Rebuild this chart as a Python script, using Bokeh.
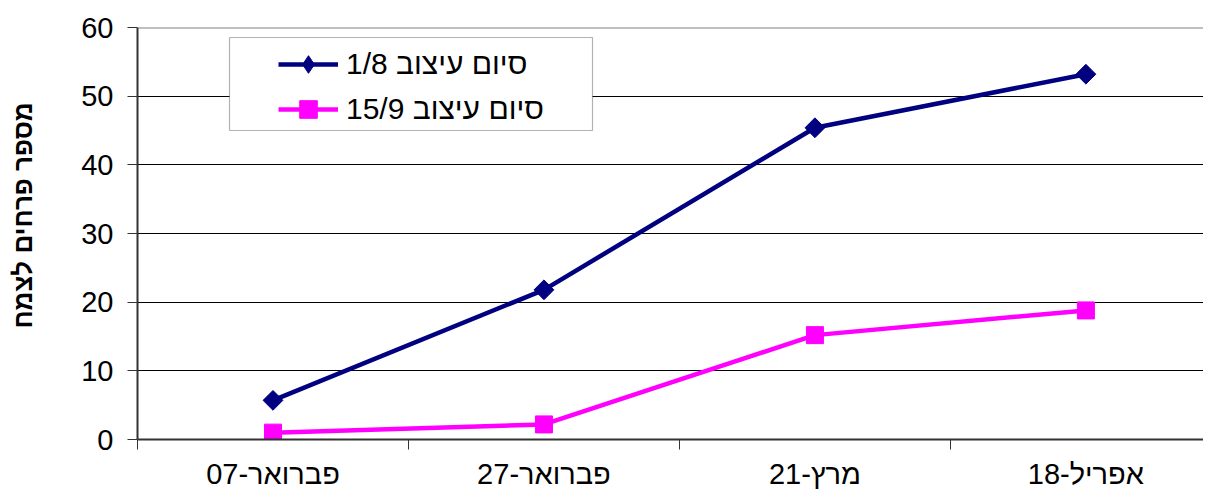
import math
from bokeh.plotting import figure
from bokeh.models import Range1d, FixedTicker, Legend, LegendItem, BoxAnnotation, Span
from bokeh.embed import file_html
from bokeh.resources import INLINE

# ---- data ----
categories = ["פברואר-07", "פברואר-27", "מרץ-21", "אפריל-18"]
series_names = ["סיום עיצוב 1/8", "סיום עיצוב 15/9"]
values_1_8 = [5.7, 21.8, 45.4, 53.2]
values_15_9 = [1.0, 2.2, 15.2, 18.8]
y_ticks = [0, 10, 20, 30, 40, 50, 60]
y_label = "מספר פרחים לצמח"

# ---- view settings ----
FONT = "Liberation Sans"
Y_MAX = 60
X_END = 3.934          # visible part of the category axis (chart is cut at the right)
NAVY = "#000080"
MAGENTA = "#FF00FF"

x_pos = [i + 0.5 for i in range(len(categories))]

p = figure(width=1203, height=492, output_backend="svg", toolbar_location=None,
           x_range=Range1d(0, X_END), y_range=Range1d(0, Y_MAX),
           min_border_left=137, min_border_right=0, min_border_top=27, min_border_bottom=53)
p.outline_line_color = None
p.background_fill_color = "white"
p.border_fill_color = "white"

# grid
p.xgrid.visible = False
p.ygrid.ticker = FixedTicker(ticks=y_ticks)
p.ygrid.grid_line_color = "black"
p.ygrid.grid_line_width = 1

# y axis
p.yaxis.ticker = FixedTicker(ticks=y_ticks)
p.yaxis.axis_line_color = "#333333"
p.yaxis.axis_line_width = 2
p.yaxis.major_tick_out = 10
p.yaxis.major_tick_in = 0
p.yaxis.major_tick_line_color = "#333333"
p.yaxis.minor_tick_line_color = None
p.yaxis.major_label_text_font = FONT
p.yaxis.major_label_text_font_size = "29px"
p.yaxis.major_label_text_color = "black"
p.yaxis.major_label_standoff = 14
p.yaxis.axis_label = "\u00a0" * 5 + y_label
p.yaxis.axis_label_text_font = FONT
p.yaxis.axis_label_text_font_size = "26px"
p.yaxis.axis_label_text_font_style = "bold"
p.yaxis.axis_label_text_color = "black"
p.yaxis.axis_label_standoff = 40

# x axis
p.xaxis.ticker = FixedTicker(ticks=x_pos, minor_ticks=list(range(len(categories) + 1)))
p.xaxis.major_label_overrides = {x: c for x, c in zip(x_pos, categories)}
p.xaxis.axis_line_color = "#333333"
p.xaxis.axis_line_width = 2
p.xaxis.major_tick_out = 0
p.xaxis.major_tick_in = 0
p.xaxis.minor_tick_out = 10
p.xaxis.minor_tick_in = 0
p.xaxis.minor_tick_line_color = "#333333"
p.xaxis.minor_tick_line_width = 1
p.xaxis.major_label_text_font = FONT
p.xaxis.major_label_text_font_size = "29px"
p.xaxis.major_label_text_color = "black"
p.xaxis.major_label_standoff = 8

# top border line at the axis maximum
p.add_layout(Span(location=Y_MAX, dimension="width", line_color="#808080", line_width=2))

# series
l1 = p.line(x_pos, values_1_8, line_color=NAVY, line_width=4.5)
s1 = p.scatter(x_pos, values_1_8, marker="square", angle=math.pi / 4, size=14,
               fill_color=NAVY, line_color=NAVY)
l2 = p.line(x_pos, values_15_9, line_color=MAGENTA, line_width=4.5)
s2 = p.scatter(x_pos, values_15_9, marker="square", size=17,
               fill_color=MAGENTA, line_color=MAGENTA)
# legend-only glyph (diamond shape as shown in the legend)
s1_leg = p.scatter(x_pos, values_1_8, marker="diamond", size=18,
                   fill_color=NAVY, line_color=NAVY, visible=False)

# legend frame
p.add_layout(BoxAnnotation(left=92, right=455, bottom=309, top=402,
                           left_units="screen", right_units="screen",
                           bottom_units="screen", top_units="screen",
                           fill_color="white", fill_alpha=1.0,
                           line_color="black", line_width=1.2, level="annotation"))

legend = Legend(items=[LegendItem(label=series_names[0], renderers=[l1, s1_leg]),
                       LegendItem(label=series_names[1], renderers=[l2, s2])],
                location=(141, 308), orientation="vertical",
                padding=2, spacing=1, margin=0,
                glyph_width=60, glyph_height=44, label_standoff=8,
                label_text_font=FONT, label_text_font_size="30px",
                label_text_color="black",
                border_line_color=None, background_fill_alpha=0)
p.add_layout(legend)

open("out.html", "w").write(file_html(p, INLINE))
